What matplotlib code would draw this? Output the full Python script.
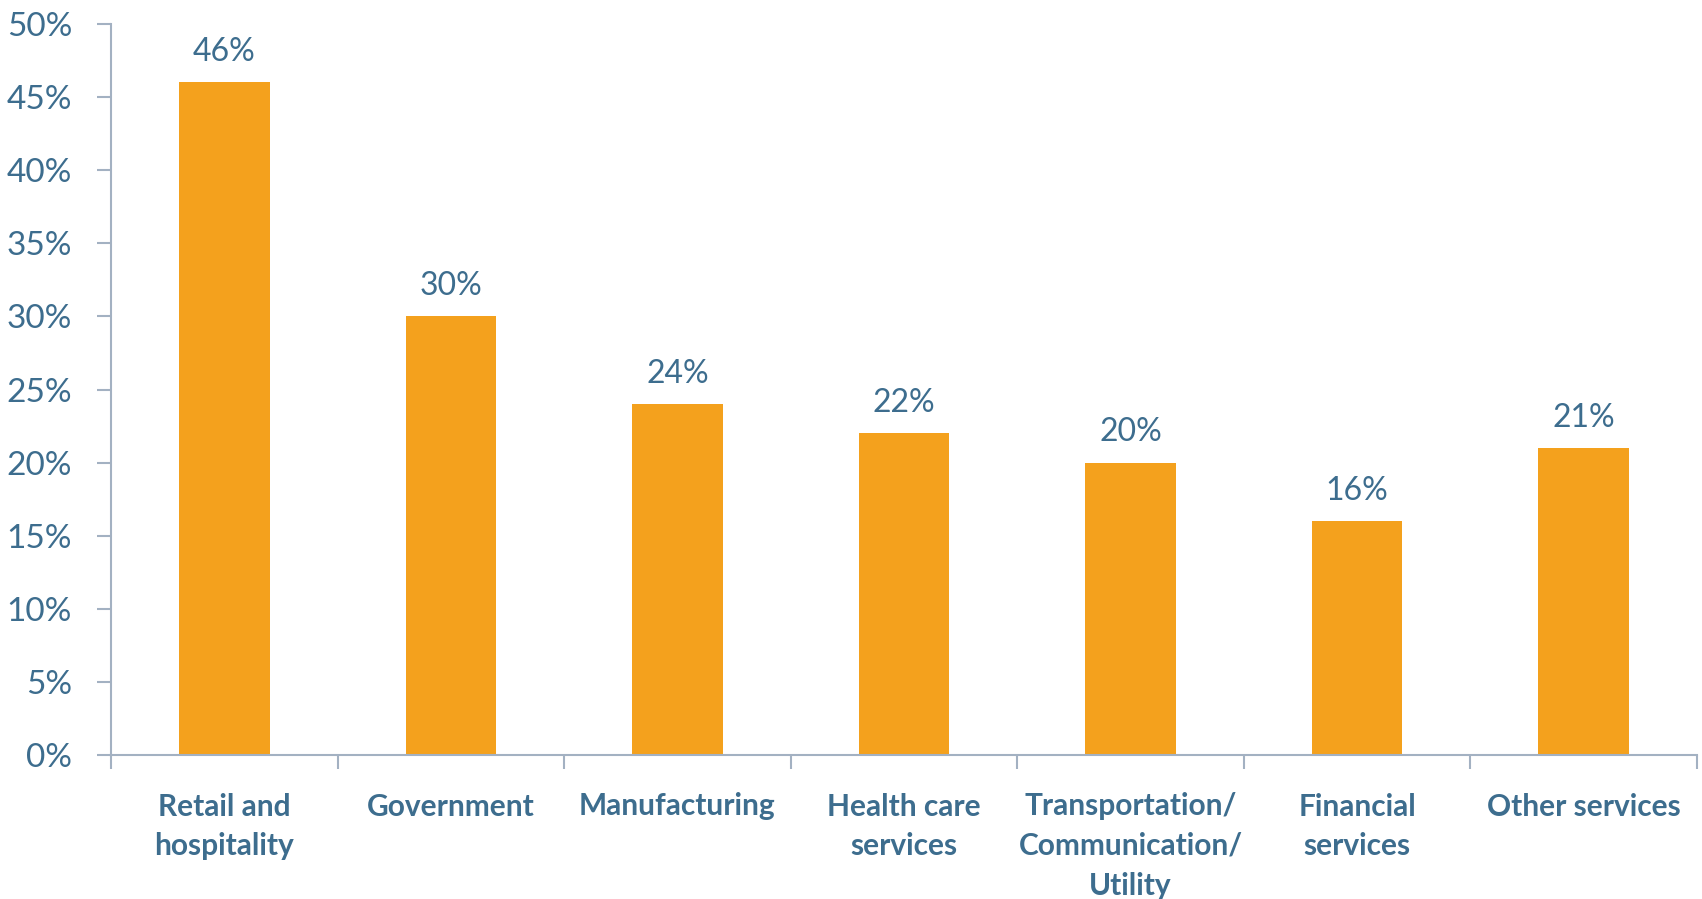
import matplotlib
matplotlib.use("Agg")
import matplotlib.pyplot as plt
from matplotlib.ticker import FuncFormatter, MultipleLocator

categories = ["Retail and\nhospitality", "Government", "Manufacturing", "Health care\nservices",
              "Transportation/\nCommunication/\nUtility", "Financial\nservices", "Other services"]
values = [46, 30, 24, 22, 20, 16, 21]

text_color = "#3D6D8E"
bar_color = "#F4A11D"
axis_color = "#A3B1C2"

plt.rcParams['font.family'] = ['Lato', 'DejaVu Sans']

fig = plt.figure(figsize=(17.02, 8.99), dpi=100)
ax = fig.add_axes([111/1702, 1 - 755/899, (1697-111)/1702, (755-24)/899])

x = list(range(len(categories)))
ax.bar(x, values, width=0.40, color=bar_color, zorder=2)
ax.set_xlim(-0.5, len(categories) - 0.5)
ax.set_ylim(0, 50)
ax.yaxis.set_major_locator(MultipleLocator(5))
ax.yaxis.set_major_formatter(FuncFormatter(lambda v, p: f"{int(v)}%"))

for xi, v in zip(x, values):
    ax.annotate(f"{v}%", (xi, v), xytext=(0, 11), textcoords="offset points",
                ha="center", va="bottom", fontsize=23, color=text_color)

for s in ["top", "right"]:
    ax.spines[s].set_visible(False)
for s in ["left", "bottom"]:
    ax.spines[s].set_color(axis_color)
    ax.spines[s].set_linewidth(1.5)

ax.tick_params(axis="y", colors=axis_color, labelcolor=text_color, labelsize=24,
               length=10, width=1.5, pad=18)
ax.set_xticks([i - 0.5 for i in range(len(categories) + 1)], minor=False)
ax.set_xticklabels([])
ax.tick_params(axis="x", which="major", colors=axis_color, length=10, width=1.5, direction="out")
ax.set_xticks(x, minor=True)
ax.set_xticklabels(categories, minor=True, fontsize=21.5, fontweight="bold", color=text_color,
                   linespacing=1.5, va="top")
ax.tick_params(axis="x", which="minor", length=0, pad=27)

fig.savefig("out.png", dpi=100)
